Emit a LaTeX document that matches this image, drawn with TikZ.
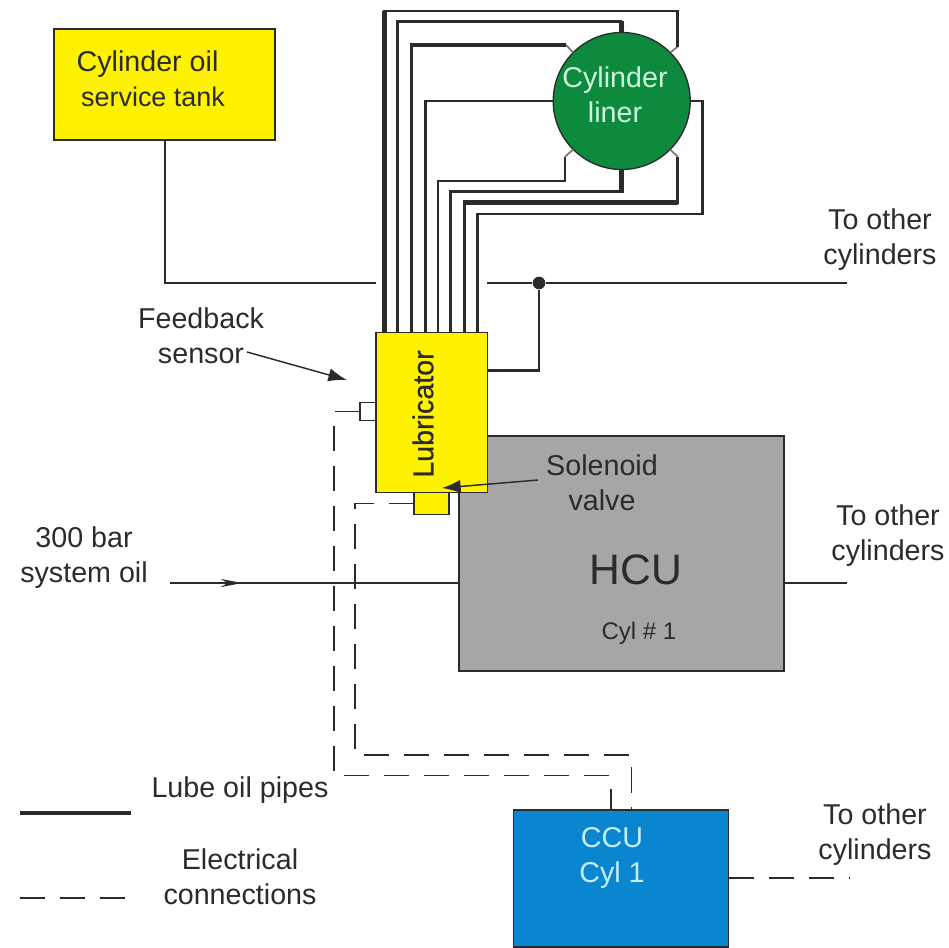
\documentclass[tikz,border=0pt]{standalone}
\usepackage{fontspec}
\setmainfont{Liberation Sans}
\newfontfamily\lubfont[FakeBold=0.6]{Liberation Sans}
\usetikzlibrary{arrows.meta,decorations.markings}
\definecolor{tankyellow}{HTML}{FFF200}
\definecolor{linergreen}{HTML}{0E8A3E}
\definecolor{hcugrey}{HTML}{A7A5A6}
\definecolor{ccublue}{HTML}{0A86D0}
\definecolor{ink}{HTML}{2B2B2B}
\definecolor{mint}{HTML}{CDF5DC}
\definecolor{paleblue}{HTML}{C8ECFA}
\definecolor{stubgrey}{HTML}{6E6E6E}
\newcommand{\lbl}{\fontsize{21.5pt}{26.3pt}\selectfont}
\tikzset{
  box/.style={draw=ink,line width=1.2pt,inner sep=0pt,outer sep=0pt},
  pipe/.style={draw=ink,line width=2.1pt},
  thickpipe/.style={draw=ink,line width=3.4pt},
  stub/.style={draw=stubgrey,line width=1.2pt},
  elec/.style={draw=ink,line width=1pt,dash pattern=on 19pt off 11pt},
  label/.style={text=ink,align=center,inner sep=0pt,font=\lbl},
  pointer/.style={draw=ink,line width=1.1pt,-{Latex[length=14pt,width=10pt]}}
}
\begin{document}
\begin{tikzpicture}[x=0.75pt,y=-0.75pt]
\useasboundingbox (0,0) rectangle (949,947);
% boxes
\node[box,fill=hcugrey,minimum width=243.75pt,minimum height=176.25pt] (hcu) at (621.5,553.5) {};
\node[box,fill=tankyellow,minimum width=165.75pt,minimum height=83.25pt] (tank) at (164.5,84.5) {};
\node[box,fill=ccublue,minimum width=161.25pt,minimum height=103pt] (ccu) at (621,878.5) {};
\node[box,fill=tankyellow,minimum width=83.5pt,minimum height=119.75pt] (lub) at (431.7,412.5) {};
\node[box,fill=tankyellow,minimum width=26pt,minimum height=16.5pt] (sol) at (431.6,503.3) {};
\node[box,fill=white,line width=0.8pt,minimum width=12pt,minimum height=13.8pt] (sensor) at (368,411.5) {};
\node[circle,draw=ink,line width=1pt,fill=linergreen,inner sep=0pt,outer sep=0pt,minimum size=102.75pt] (liner) at (621.7,101) {};
% junction and free ends
\coordinate (mainL) at (165,283);
\coordinate (gapL) at (376,283);
\coordinate (gapR) at (487,283);
\coordinate (mainR) at (847,283);
\coordinate (sysL) at (170,583);
\coordinate (hcuR) at (847,583);
\coordinate (ccuR) at (850,878);
\coordinate (legA) at (20,813);
\coordinate (legB) at (131,813);
\coordinate (legC) at (20,898);
\coordinate (legD) at (131,898);
\coordinate (fbS) at (247,352);
\coordinate (fbE) at (347,380);
\coordinate (solS) at (538,480);
\coordinate (solE) at (442,488);
\node[circle,fill=ink,inner sep=0pt,minimum size=9.5pt] (dot) at (539,283) {};
% supply
\draw[pipe] (tank.south -| mainL) -- (mainL) -- (gapL);
\draw[pipe] (gapR) -- (dot) -- (mainR);
\draw[pipe] (lub.east |- 0,370.5) -| (dot);
% pipes lubricator to liner
\draw[stub] (677.7,46.7) -- (liner.45);
\draw[stub] (566,45) -- (liner.135);
\draw[stub] (565,156.7) -- (liner.225);
\draw[stub] (677.7,156.7) -- (liner.315);
\draw[thickpipe] (384.7,332.7) -- (384.7,11);
\draw[pipe] (383,11) -- (677.7,11) -- (677.7,46.7);
\draw[pipe] (397.7,332.7) -- (397.7,21.7) -- (621.7,21.7);
\draw[thickpipe] (621.7,20.7) -- (liner.north);
\draw[pipe] (411.7,332.7) -- (411.7,45);
\draw[thickpipe] (410,45) -- (566,45);
\draw[pipe] (425.7,332.7) -- (425.7,101) -- (liner.west);
\draw[pipe] (438,332.7) -- (438,181) -- (565,181) -- (565,156.7);
\draw[pipe] (450.3,332.7) -- (450.3,191.7) -- (621.7,191.7);
\draw[thickpipe] (621.7,193) -- (liner.south);
\draw[pipe] (464.3,332.7) -- (464.3,202.7);
\draw[thickpipe] (463,202.7) -- (677.7,202.7);
\draw[pipe] (677.7,204) -- (677.7,156.7);
\draw[pipe] (477.7,332.7) -- (477.7,214) -- (702.3,214) -- (702.3,101) -- (liner.east);
% system oil
\draw[pipe,postaction={decorate},decoration={markings,mark=at position 0.25 with {\arrow[ink]{Stealth[length=16pt,width=6pt]}}}] (sysL) -- (hcu.west |- sysL);
\draw[pipe] (hcu.east |- hcuR) -- (hcuR);
% electrical
\draw[elec] (sensor.west) -- (334,411.5) -- (334,775.7) -- (611,775.7) -- (ccu.north -| 611,0);
\draw[elec] (sol.west) -- (355,503.3) -- (355,755) -- (631.7,755) -- (ccu.north -| 631.7,0);
\draw[elec] (ccu.east |- ccuR) -- (ccuR);
% legend
\draw[pipe,line width=2.5pt] (legA) -- (legB);
\draw[elec] (legC) -- (legD);
% labels
\node[label] (t1) at (153,79) {Cylinder oil\hspace*{8.2pt}\\\fontsize{20.2pt}{26.3pt}\selectfont service tank};
\node[label,text=mint] (t2) at (615,95) {Cylinder\\liner};
\node[label] (t3) at (880,240) {To other\\cylinders};
\node[label] (t4) at (201,336) {Feedback\\sensor};
\node[label,rotate=90,font=\lbl\lubfont] (t5) at (423,414) {Lubricator};
\node[label] (t6) at (602,483) {Solenoid\\valve};
\node[label] (t7) at (84,558) {300 bar\\system oil};
\node[label] (t8) at (888,536) {To other\\cylinders};
\node[label,font=\fontsize{32pt}{36pt}\selectfont] (t9) at (636,570) {HCU};
\node[label,font=\fontsize{18pt}{22pt}\selectfont] (t10) at (639,633) {Cyl \# 1};
\node[label] (t11) at (240,790) {Lube oil pipes};
\node[label] (t12) at (240,877) {Electrical\\connections};
\node[label,text=paleblue] (t13) at (612,858) {CCU\\Cyl 1};
\node[label] (t14) at (875,835) {To other\\cylinders};
% pointers
\draw[pointer] (fbS) -- (fbE);
\draw[pointer] (solS) -- (solE);
\end{tikzpicture}
\end{document}
